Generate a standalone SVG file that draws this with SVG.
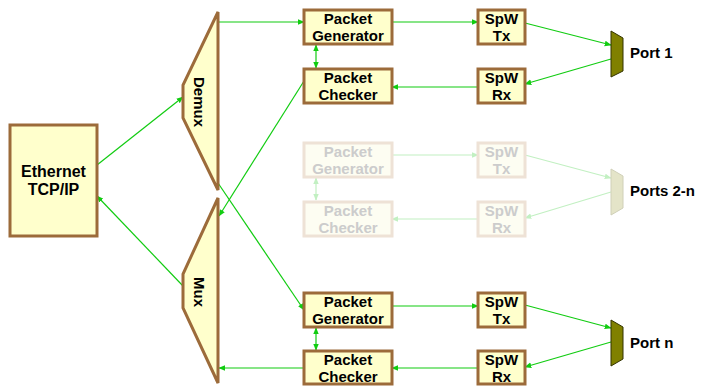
<svg xmlns="http://www.w3.org/2000/svg" width="702" height="386" viewBox="0 0 702 386">
<defs>
<style>
.box{fill:#ffffcc;stroke:#9c6b3a;stroke-width:3}
.fbox{fill:#fdfdf2;stroke:#eee2d6;stroke-width:3}
.t{font-family:"Liberation Sans",Arial,sans-serif;font-weight:bold;font-size:15px;fill:#000;text-anchor:middle}
.ft{font-family:"Liberation Sans",Arial,sans-serif;font-weight:bold;font-size:15px;fill:#cccccc;text-anchor:middle}
.lbl{font-family:"Liberation Sans",Arial,sans-serif;font-weight:bold;font-size:15px;fill:#000}
.c{stroke:#11cc11;stroke-width:1.2;fill:none}
.fc{stroke:#c2f0c2;stroke-width:1.2;fill:none}
</style>
<marker id="a" viewBox="0 0 10 10" refX="9" refY="5" markerWidth="7" markerHeight="7" orient="auto-start-reverse" markerUnits="userSpaceOnUse"><path d="M0,1 L10,5 L0,9 z" fill="#11cc11"/></marker>
<marker id="fa" viewBox="0 0 10 10" refX="9" refY="5" markerWidth="7" markerHeight="7" orient="auto-start-reverse" markerUnits="userSpaceOnUse"><path d="M0,1 L10,5 L0,9 z" fill="#c2f0c2"/></marker>
</defs>

<g id="connectors">
<line class="c" x1="218" y1="22" x2="304" y2="22" marker-end="url(#a)"/>
<line class="c" x1="392" y1="22" x2="478" y2="22" marker-end="url(#a)"/>
<line class="c" x1="525" y1="23" x2="611" y2="45" marker-end="url(#a)"/>
<line class="c" x1="611" y1="59" x2="525" y2="84" marker-end="url(#a)"/>
<line class="c" x1="478" y1="87" x2="392" y2="87" marker-end="url(#a)"/>
<line class="c" x1="316" y1="45" x2="316" y2="68" marker-start="url(#a)" marker-end="url(#a)"/>
<line class="c" x1="304" y1="81" x2="219" y2="216" marker-end="url(#a)"/>
<line class="c" x1="97" y1="165" x2="183" y2="97" marker-end="url(#a)"/>
<line class="c" x1="183" y1="286" x2="97" y2="196" marker-end="url(#a)"/>
<line class="c" x1="218" y1="183" x2="304" y2="310" marker-end="url(#a)"/>
<line class="c" x1="392" y1="306" x2="478" y2="306" marker-end="url(#a)"/>
<line class="c" x1="525" y1="305" x2="611" y2="328" marker-end="url(#a)"/>
<line class="c" x1="611" y1="342" x2="525" y2="367" marker-end="url(#a)"/>
<line class="c" x1="478" y1="368" x2="392" y2="368" marker-end="url(#a)"/>
<line class="c" x1="316" y1="328" x2="316" y2="350" marker-start="url(#a)" marker-end="url(#a)"/>
<line class="c" x1="304" y1="368" x2="219" y2="368" marker-end="url(#a)"/>
<line class="fc" x1="392" y1="155" x2="478" y2="155" marker-end="url(#fa)"/>
<line class="fc" x1="525" y1="155" x2="611" y2="178" marker-end="url(#fa)"/>
<line class="fc" x1="611" y1="192" x2="525" y2="218" marker-end="url(#fa)"/>
<line class="fc" x1="478" y1="219" x2="392" y2="219" marker-end="url(#fa)"/>
<line class="fc" x1="316" y1="178" x2="316" y2="200" marker-start="url(#fa)" marker-end="url(#fa)"/>
</g>

<g id="ethernet">
<rect class="box" x="10" y="125" width="87" height="111"/>
<text class="t" x="53.5" y="177" style="font-size:16px">Ethernet</text>
<text class="t" x="53.5" y="195" style="font-size:16px">TCP/IP</text>
</g>

<g id="demux">
<polygon class="box" points="218,12 183,85 183,118 218,190"/>
<text class="t" transform="translate(194,102) rotate(90)">Demux</text>
</g>

<g id="mux">
<polygon class="box" points="218,198 183,274 183,308 218,383"/>
<text class="t" transform="translate(194,292) rotate(90)">Mux</text>
</g>

<g id="gen1">
<rect class="box" x="304" y="10" width="88" height="34"/>
<text class="t" x="348" y="24">Packet</text>
<text class="t" x="348" y="40.5">Generator</text>
</g>
<g id="chk1">
<rect class="box" x="304" y="69" width="88" height="34"/>
<text class="t" x="348" y="83">Packet</text>
<text class="t" x="348" y="99.5">Checker</text>
</g>
<g id="tx1">
<rect class="box" x="478" y="10" width="47" height="34"/>
<text class="t" x="501.5" y="24">SpW</text>
<text class="t" x="501.5" y="40.5">Tx</text>
</g>
<g id="rx1">
<rect class="box" x="478" y="69" width="47" height="34"/>
<text class="t" x="501.5" y="83">SpW</text>
<text class="t" x="501.5" y="99.5">Rx</text>
</g>
<g id="port1">
<polygon points="611,31 623,38 623,71 611,77" fill="#808000" stroke="#333300" stroke-width="1"/>
<text class="lbl" x="630" y="58">Port 1</text>
</g>

<g id="gen2">
<rect class="fbox" x="304" y="143" width="88" height="34"/>
<text class="ft" x="348" y="157">Packet</text>
<text class="ft" x="348" y="173.5">Generator</text>
</g>
<g id="chk2">
<rect class="fbox" x="304" y="202" width="88" height="34"/>
<text class="ft" x="348" y="216">Packet</text>
<text class="ft" x="348" y="232.5">Checker</text>
</g>
<g id="tx2">
<rect class="fbox" x="478" y="143" width="47" height="34"/>
<text class="ft" x="501.5" y="157">SpW</text>
<text class="ft" x="501.5" y="173.5">Tx</text>
</g>
<g id="rx2">
<rect class="fbox" x="478" y="202" width="47" height="34"/>
<text class="ft" x="501.5" y="216">SpW</text>
<text class="ft" x="501.5" y="232.5">Rx</text>
</g>
<g id="port2">
<polygon points="611,169 623,176 623,208 611,215" fill="#e4e4c8" stroke="#d0d0b8" stroke-width="1"/>
<text class="lbl" x="630" y="196">Ports 2-n</text>
</g>

<g id="genn">
<rect class="box" x="304" y="293" width="88" height="34"/>
<text class="t" x="348" y="307">Packet</text>
<text class="t" x="348" y="323.5">Generator</text>
</g>
<g id="chkn">
<rect class="box" x="304" y="351" width="88" height="33"/>
<text class="t" x="348" y="365">Packet</text>
<text class="t" x="348" y="381.5">Checker</text>
</g>
<g id="txn">
<rect class="box" x="478" y="293" width="47" height="34"/>
<text class="t" x="501.5" y="307">SpW</text>
<text class="t" x="501.5" y="323.5">Tx</text>
</g>
<g id="rxn">
<rect class="box" x="478" y="351" width="47" height="33"/>
<text class="t" x="501.5" y="365">SpW</text>
<text class="t" x="501.5" y="381.5">Rx</text>
</g>
<g id="portn">
<polygon points="611,320 623,327 623,359 611,366" fill="#808000" stroke="#333300" stroke-width="1"/>
<text class="lbl" x="630" y="348">Port n</text>
</g>
</svg>
